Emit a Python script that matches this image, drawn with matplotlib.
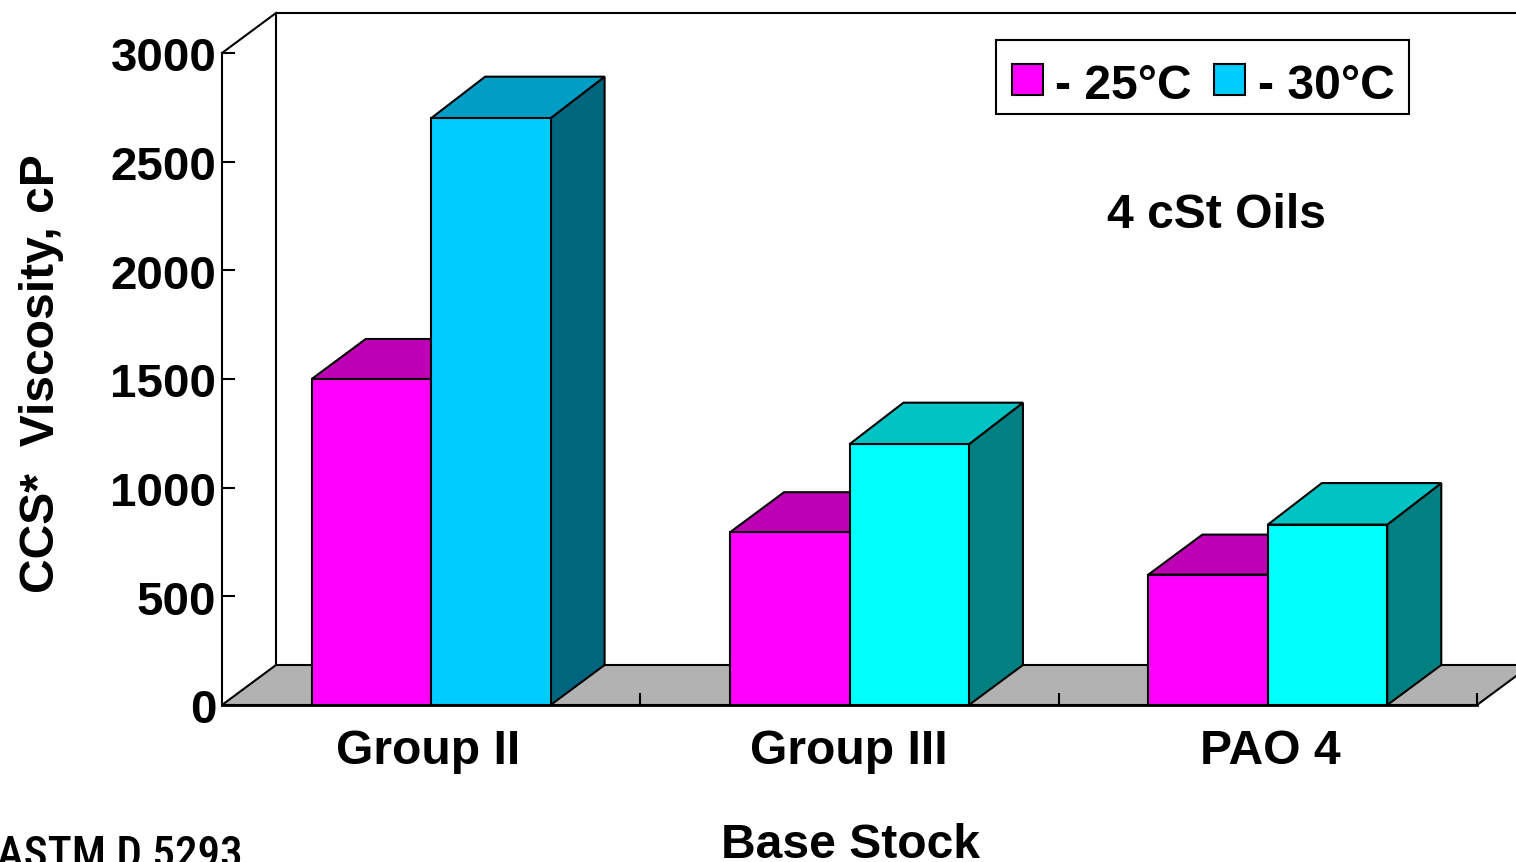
import matplotlib
matplotlib.use("Agg")
import matplotlib.pyplot as plt
from matplotlib.patches import Polygon, Rectangle
from matplotlib.transforms import ScaledTranslation

categories = ["Group II", "Group III", "PAO 4"]
series_25 = [1500, 795, 600]
series_30 = [2700, 1200, 830]
yticks = [0, 500, 1000, 1500, 2000, 2500, 3000]
front_30 = ["#00CCFF", "#00FFFF", "#00FFFF"]
top_30 = ["#009DC4", "#00C4C4", "#00C4C4"]
side_30 = ["#00667F", "#008080", "#008080"]
MAG, MAG_TOP = "#FF00FF", "#BD00B4"

W, H = 1516, 862
DPI = 100
FS = 34.6
plt.rcParams["font.family"] = ["Liberation Sans", "DejaVu Sans"]
plt.rcParams["font.weight"] = "bold"
fig = plt.figure(figsize=((W + 0.01) / DPI, (H + 0.01) / DPI), dpi=DPI)
L, R, T, B = 222, 1477, 53, 705
ax = fig.add_axes([L / W, 1 - B / H, (R - L) / W, (B - T) / H])
ax.set_xlim(0, 3)
ax.set_ylim(0, 3000)
ax.patch.set_visible(False)
for s in ax.spines.values():
    s.set_visible(False)

# depth of the 3-D look expressed in data units
DX = 54 / ((R - L) / 3)
DY = 40 / ((B - T) / 3000)
lw = 1.5
kw = dict(edgecolor="black", linewidth=lw, clip_on=False, joinstyle="miter")

# floor and back wall
ax.add_patch(Polygon([(0, 0), (DX, DY), (3 + DX, DY), (3, 0)], facecolor="#B2B2B2", zorder=1, **kw))
ax.plot([DX, DX, 3 + DX], [DY, 3000 + DY, 3000 + DY], color="black", lw=lw, clip_on=False, zorder=1)
ax.plot([0, DX], [3000, 3000 + DY], color="black", lw=lw, clip_on=False, zorder=1)
ax.plot([0, 0], [0, 3000], color="black", lw=lw, clip_on=False, zorder=1)
ax.plot([0, 3], [0, 0], color="black", lw=2.0, clip_on=False, zorder=6)

BW = 0.2855


def box(x0, v, front, top, side, z, extra=0.0):
    x1 = x0 + BW
    d = DY + extra
    ax.add_patch(Polygon([(x1, 0), (x1 + DX, DY), (x1 + DX, v + d), (x1, v)], facecolor=side, zorder=z, **kw))
    ax.add_patch(Polygon([(x0, v), (x0 + DX, v + d), (x1 + DX, v + d), (x1, v)], facecolor=top, zorder=z, **kw))
    ax.add_patch(Rectangle((x0, 0), BW, v, facecolor=front, zorder=z + 0.5, **kw))


for i in range(3):
    c = i + 0.5
    box(c - BW, series_25[i], MAG, MAG_TOP, "#BD00B4", 2 + i)
    box(c, series_30[i], front_30[i], top_30[i], side_30[i], 2.7 + i, extra=7)

ax.set_xticks([1, 2, 3])
ax.set_xticklabels([])
ax.tick_params(axis="x", direction="in", length=9, width=1.5, top=False)
ax.set_yticks(yticks)
ax.set_yticklabels([str(t) for t in yticks], fontsize=34.2)
ax.tick_params(axis="y", direction="in", length=9, width=1.5, pad=4)
down = ScaledTranslation(0, -1.3 / DPI, fig.dpi_scale_trans)
for t in ax.yaxis.get_ticklabels():
    t.set_fontweight("bold")
    t.set_transform(t.get_transform() + down)

for i, name in enumerate(categories):
    ax.annotate(name, xy=(i + 0.5, 0), xycoords=("data", "axes fraction"), xytext=(-3 if i == 0 else (-1 if i == 1 else 2), -46),
                textcoords="offset pixels", ha="center", va="center", fontsize=FS, fontweight="bold")

fig.text(850 / W, 1 - 845 / H, "Base Stock", ha="center", va="center", fontsize=FS, fontweight="bold")
fig.text(41 / W, 1 - 374 / H, "CCS*  Viscosity, cP", rotation=90, ha="center", va="center", fontsize=FS, fontweight="bold")
fig.text(1216 / W, 1 - 215 / H, "4 cSt Oils", ha="center", va="center", fontsize=FS, fontweight="bold")
fig.text(-3 / W, 1 - 835 / H, "ASTM D 5293", ha="left", va="top", fontsize=32.5, fontweight=500,
         family=["Roboto Condensed", "Liberation Sans"])

# legend
fig.add_artist(Rectangle((996 / W, 1 - 114.5 / H), 413 / W, 74 / H, transform=fig.transFigure, facecolor="white", edgecolor="black", linewidth=1.5, zorder=10))
for x, col in ((1012, MAG), (1214, "#00CCFF")):
    fig.add_artist(Rectangle((x / W, 1 - 95.5 / H), 31 / W, 31 / H, transform=fig.transFigure, facecolor=col, edgecolor="black", linewidth=1.5, zorder=11))
fig.text(1055 / W, 1 - 86 / H, "- 25°C", ha="left", va="center", fontsize=FS, fontweight="bold", zorder=11)
fig.text(1258 / W, 1 - 86 / H, "- 30°C", ha="left", va="center", fontsize=FS, fontweight="bold", zorder=11)

fig.savefig("out.png", dpi=DPI)
